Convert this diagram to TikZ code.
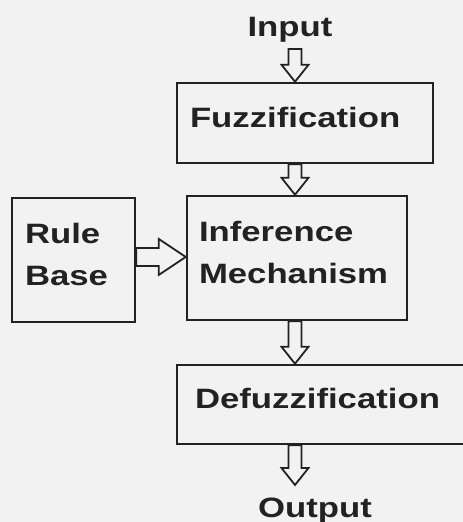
\documentclass[tikz,border=0pt]{standalone}
\usepackage{fontspec}
\setmainfont{Liberation Sans}[FakeStretch=1.24]
\usepackage{tikz}
\usetikzlibrary{calc, positioning}

\definecolor{paper}{RGB}{242,242,242}
\definecolor{ink}{RGB}{34,34,34}

% hollow block arrow pointing down, from #1 to the tip #2
\newcommand{\flowdown}[2]{%
  \draw[arrowline] ($(#1)+(-6.5,0)$) -- ($(#2)+(-6.5,17)$) -- ($(#2)+(-13.5,17)$)
    -- (#2) -- ($(#2)+(13.5,17)$) -- ($(#2)+(6.5,17)$) -- ($(#1)+(6.5,0)$) -- cycle;}
% the same, pointing right
\newcommand{\flowright}[2]{%
  \draw[arrowline] ($(#1)+(0,-9)$) -- ($(#2)+(-27,-9)$) -- ($(#2)+(-27,-18)$)
    -- (#2) -- ($(#2)+(-27,18)$) -- ($(#2)+(-27,9)$) -- ($(#1)+(0,9)$) -- cycle;}

\begin{document}
\begin{tikzpicture}[
    x=1pt, y=1pt,
    every node/.style={font=\fontsize{28}{42}\selectfont\bfseries, text=ink},
    block/.style={draw=ink, line width=2.5pt, fill=paper, align=left,
        inner xsep=13pt, inner ysep=0pt, text depth=12pt},
    twoline/.style={text depth=54pt},
    arrowline/.style={draw=ink, line width=1.8pt, fill=paper, line join=miter}
]

\useasboundingbox (0,0) rectangle (463,522);
\clip (0,0) rectangle (463,522);
\fill[paper] (0,0) rectangle (463,522);

% Blocks
\node[block, text width=230pt, minimum height=80pt] (fuzz) at (305,399) {Fuzzification};
\node[block, twoline, inner xsep=12pt, text width=196pt, minimum height=124pt] (infer) at (297,264) {Inference\\Mechanism};
\node[block, twoline, text width=97pt, minimum height=124pt] (rules) at (73.5,262) {Rule\\Base};
\node[block, inner xsep=18pt, text width=264pt, minimum height=79pt] (defuzz) at (327,117.5) {Defuzzification};

% Input and output labels
\node[anchor=base] (input) at (290,485) {Input};
\node[anchor=base] (output) at (315,5) {Output};

% Arrow ends
\coordinate (col) at (295,0);
\coordinate (a1) at (295,473);
\coordinate (b1) at (fuzz.north -| col);
\coordinate (a2) at (fuzz.south -| col);
\coordinate (b2) at (infer.north -| col);
\coordinate (a3) at (infer.south -| col);
\coordinate (b3) at (defuzz.north -| col);
\coordinate (a4) at (defuzz.south -| col);
\coordinate (b4) at (295,37);
\coordinate (a5) at (rules.east |- 0,265);
\coordinate (b5) at (infer.west |- 0,265);

% Arrows
\flowdown{a1}{b1}
\flowdown{a2}{b2}
\flowdown{a3}{b3}
\flowdown{a4}{b4}
\flowright{a5}{b5}

\end{tikzpicture}
\end{document}
